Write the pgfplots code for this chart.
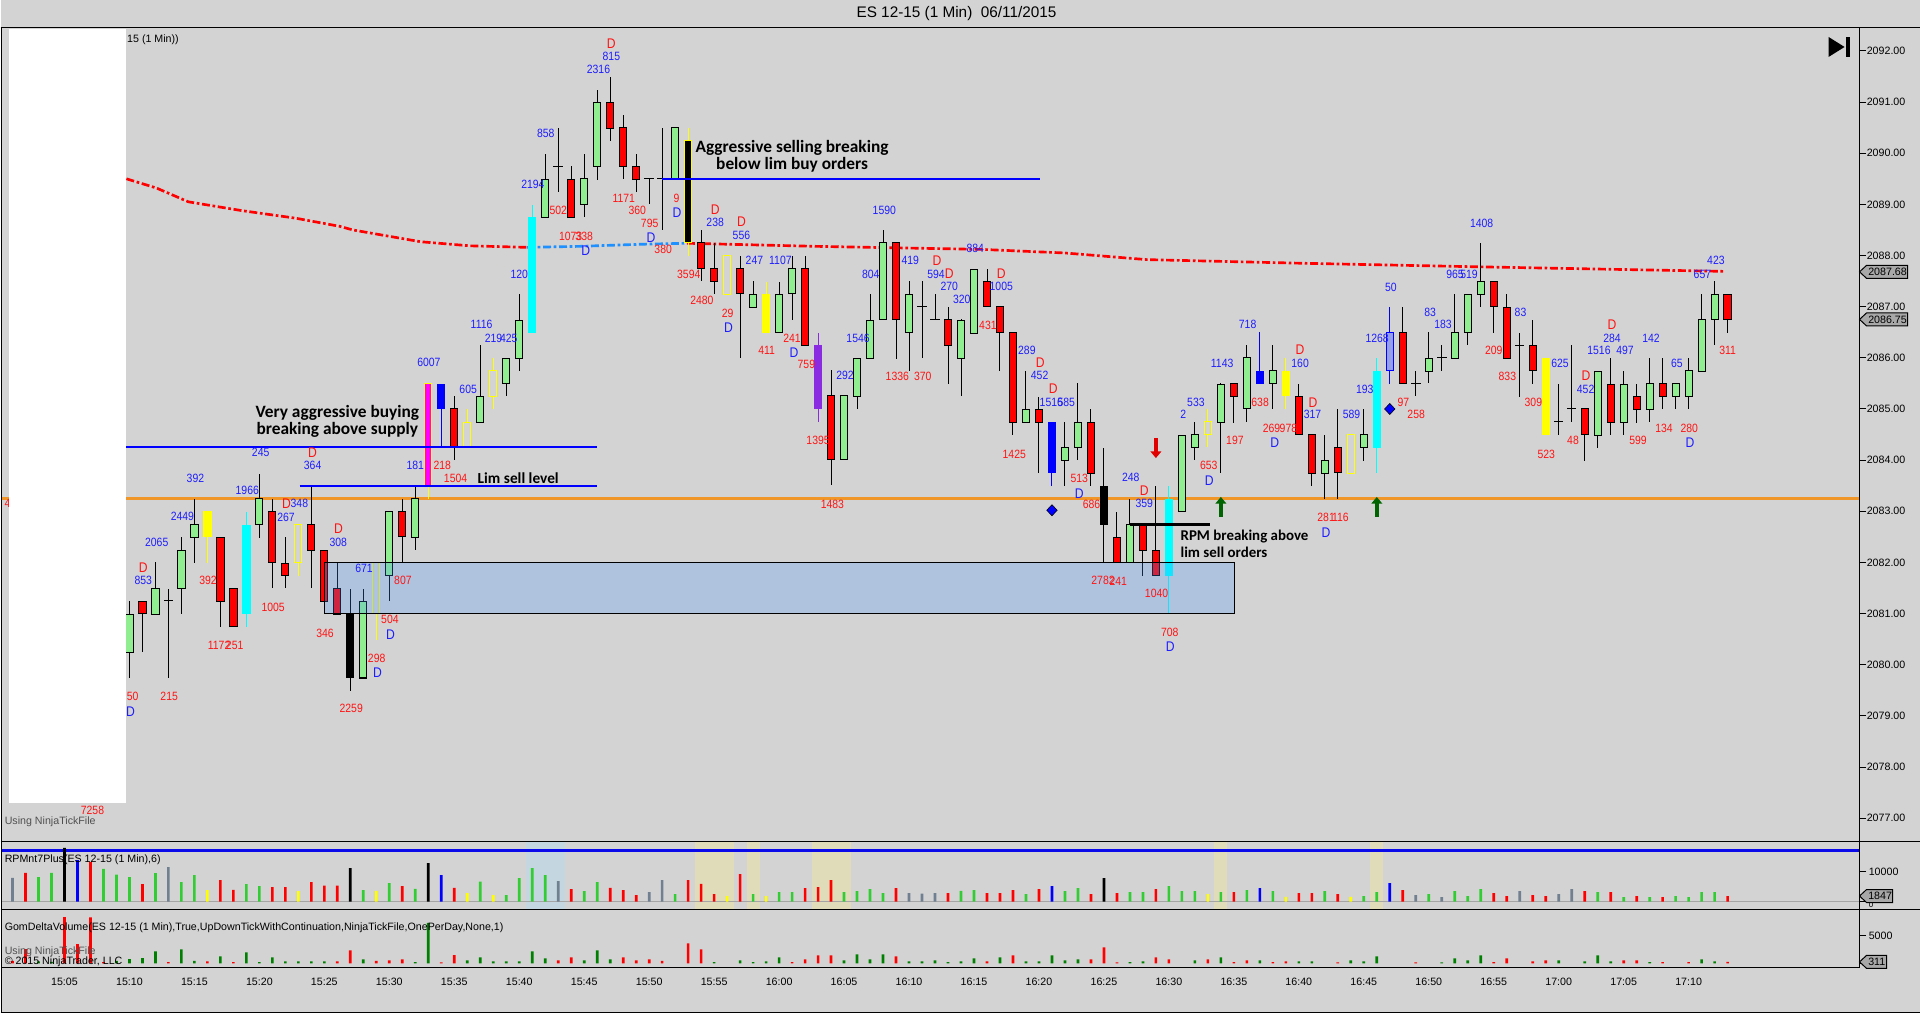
\documentclass[border=0pt]{standalone}
\usepackage{pgfplots}
\pgfplotsset{compat=1.18}
\usepackage{pgfplotstable}
\usetikzlibrary{arrows.meta, shapes.geometric}
\usepackage{fontspec}
\setmainfont{Liberation Sans}
\newfontfamily\nf[FakeStretch=0.87]{Liberation Sans}
\newfontfamily\cf{Carlito}

\definecolor{bg}{RGB}{211,211,211}
\definecolor{cg}{RGB}{144,238,144}
\definecolor{cr}{RGB}{255,0,0}
\definecolor{cy}{RGB}{255,255,0}
\definecolor{cc}{RGB}{0,255,255}
\definecolor{cm}{RGB}{255,0,255}
\definecolor{cb}{RGB}{0,0,255}
\definecolor{cp}{RGB}{138,43,226}
\definecolor{cl}{RGB}{150,160,230}
\definecolor{lb}{RGB}{30,30,255}
\definecolor{lr}{RGB}{255,20,20}
\definecolor{rg}{RGB}{50,205,50}
\definecolor{rgray}{RGB}{112,128,144}
\definecolor{dg}{RGB}{0,128,0}
\definecolor{ora}{RGB}{240,150,40}
\definecolor{mablue}{RGB}{30,144,255}
\definecolor{zone}{RGB}{71,151,255}
\definecolor{shb}{RGB}{196,214,224}
\definecolor{shy}{RGB}{224,220,186}
\definecolor{zline}{RGB}{165,165,165}
\definecolor{rpmblue}{RGB}{10,10,235}
\definecolor{arred}{RGB}{225,0,0}
\definecolor{argreen}{RGB}{0,100,0}
\definecolor{boxg}{RGB}{168,168,168}
\definecolor{txg}{RGB}{80,80,80}

% ---------- candle data: i = minutes after 15:01 ----------
\pgfplotstableread{
i o h l c
9 2080.25 2081.25 2079.75 2081.0
11 2081.0 2082.0 2081.0 2081.5
13 2081.5 2082.5 2081.0 2082.25
14 2082.5 2083.25 2082.0 2082.75
19 2082.75 2083.75 2082.5 2083.25
27 2079.75 2081.5 2079.75 2081.25
29 2081.75 2083.0 2081.25 2083.0
31 2082.5 2083.5 2082.25 2083.25
36 2084.75 2086.25 2084.75 2085.25
38 2085.5 2086.0 2085.25 2086.0
39 2086.0 2087.25 2085.75 2086.75
41 2088.75 2090.0 2088.75 2089.5
44 2089.0 2090.0 2088.75 2089.5
45 2089.75 2091.25 2089.5 2091.0
51 2089.5 2090.5 2089.5 2090.5
57 2087.0 2087.5 2087.0 2087.25
59 2086.5 2087.5 2086.5 2087.25
60 2087.25 2088.0 2086.75 2087.75
64 2084.0 2085.25 2084.0 2085.25
65 2085.25 2086.0 2085.0 2086.0
66 2086.0 2087.25 2086.0 2086.75
67 2086.75 2088.5 2086.75 2088.25
69 2086.5 2087.5 2085.75 2087.25
73 2086.0 2086.75 2085.25 2086.75
74 2086.5 2087.75 2086.5 2087.75
78 2084.75 2085.75 2084.75 2085.0
81 2084.0 2084.75 2083.5 2084.25
82 2084.25 2085.5 2084.0 2084.75
86 2082.0 2083.25 2082.0 2082.75
90 2083.0 2084.5 2083.0 2084.5
91 2084.25 2084.75 2084.0 2084.5
93 2084.75 2085.5 2083.75 2085.5
95 2085.0 2086.25 2084.75 2086.0
97 2085.5 2086.25 2085.0 2085.75
101 2083.75 2084.5 2083.25 2084.0
104 2084.25 2085.0 2084.0 2084.5
109 2085.75 2086.5 2085.5 2086.0
111 2086.0 2087.25 2086.0 2086.5
112 2086.5 2087.25 2086.25 2087.25
113 2087.25 2088.25 2087.0 2087.5
122 2084.5 2085.75 2084.25 2085.75
124 2084.75 2085.75 2084.5 2085.5
126 2085.0 2086.0 2084.75 2085.5
128 2085.25 2085.5 2085.0 2085.5
129 2085.25 2086.0 2085.0 2085.75
130 2085.75 2087.25 2085.75 2086.75
131 2086.75 2087.5 2086.25 2087.25
}\tG
\pgfplotstableread{
i o h l c
10 2081.25 2081.25 2080.25 2081.0
16 2082.5 2082.5 2080.75 2081.25
17 2081.5 2081.5 2080.75 2080.75
20 2083.0 2083.25 2081.5 2082.0
21 2082.0 2082.5 2081.5 2081.75
23 2082.75 2083.5 2081.5 2082.25
24 2082.25 2082.25 2081.25 2081.25
25 2081.5 2082.0 2081.0 2081.0
30 2083.0 2083.25 2082.0 2082.5
34 2085.0 2085.25 2084.0 2084.25
43 2089.5 2089.75 2088.75 2088.75
46 2091.0 2091.5 2090.25 2090.5
47 2090.5 2090.75 2089.5 2089.75
48 2089.75 2090.0 2089.25 2089.5
53 2088.25 2088.5 2087.5 2087.75
54 2087.75 2088.25 2087.25 2087.5
56 2087.75 2088.0 2086.0 2087.25
61 2087.75 2088.0 2086.25 2086.25
63 2085.25 2085.75 2083.5 2084.0
68 2088.25 2088.25 2086.0 2086.75
72 2086.75 2087.0 2085.5 2086.25
75 2087.5 2087.75 2087.0 2087.0
76 2087.0 2087.0 2085.75 2086.5
77 2086.5 2086.5 2084.5 2084.75
79 2085.0 2085.25 2083.75 2084.75
83 2084.75 2085.0 2083.5 2083.75
85 2082.5 2083.0 2082.0 2082.0
87 2082.75 2082.75 2081.75 2082.25
88 2082.25 2083.5 2081.75 2081.75
94 2085.5 2085.5 2084.75 2085.25
99 2085.25 2085.5 2084.5 2084.5
100 2084.5 2084.5 2083.5 2083.75
102 2084.25 2085.0 2083.25 2083.75
107 2086.5 2087.0 2085.5 2085.5
114 2087.5 2087.5 2086.5 2087.0
115 2087.0 2087.25 2086.0 2086.0
117 2086.25 2086.75 2085.5 2085.75
121 2085.0 2085.0 2084.0 2084.5
123 2085.5 2086.0 2084.5 2084.75
125 2085.25 2085.5 2084.75 2085.0
127 2085.5 2086.0 2085.0 2085.25
132 2087.25 2087.25 2086.5 2086.75
}\tR
\pgfplotstableread{
i o h l c
12 2081.25 2081.5 2079.75 2081.25
42 2089.75 2090.5 2089.25 2089.75
49 2089.5 2089.5 2089.0 2089.5
50 2089.5 2090.5 2088.5 2089.5
70 2087.0 2087.5 2086.0 2087.0
71 2086.75 2087.25 2086.75 2086.75
108 2085.5 2085.75 2085.25 2085.5
110 2086.0 2086.25 2085.75 2086.0
116 2086.25 2086.5 2085.25 2086.25
119 2084.75 2085.5 2084.5 2084.75
120 2085.0 2086.25 2084.75 2085.0
}\tX
\pgfplotstableread{
i o h l c
15 2082.5 2083.0 2082.0 2083.0
58 2087.25 2087.5 2086.5 2086.5
98 2085.75 2086.0 2085.0 2085.25
118 2086.0 2086.0 2084.5 2084.5
}\tY
\pgfplotstableread{
i o h l c
22 2082.0 2082.75 2081.75 2082.75
28 2081.0 2082.0 2080.5 2082.0
35 2084.25 2085.0 2084.25 2084.75
37 2085.25 2086.0 2085.0 2085.75
55 2087.25 2088.0 2087.25 2088.0
92 2084.5 2085.0 2084.25 2084.75
103 2083.75 2084.5 2083.75 2084.5
}\tYH
\pgfplotstableread{
i o h l c
18 2081.0 2083.0 2080.75 2082.75
40 2086.5 2089.0 2086.5 2088.75
89 2081.75 2083.5 2081.0 2083.25
105 2084.25 2086.0 2083.75 2085.75
}\tC
\pgfplotstableread{
i o h l c
26 2081.0 2081.5 2079.5 2079.75
84 2083.5 2084.25 2082.0 2082.75
}\tK
\pgfplotstableread{
i o h l c
52 2090.25 2090.5 2088.0 2088.25
}\tKY
\pgfplotstableread{
i o h l c
32 2083.5 2085.5 2083.25 2085.5
}\tM
\pgfplotstableread{
i o h l c
33 2085.5 2085.5 2084.25 2085.0
80 2084.75 2084.75 2083.5 2083.75
96 2085.75 2086.5 2085.5 2085.5
}\tB
\pgfplotstableread{
i o h l c
62 2086.25 2086.5 2084.75 2085.0
}\tP
\pgfplotstableread{
i o h l c
106 2085.75 2087.0 2085.5 2086.5
}\tL

\pgfplotsset{nomark/.style={draw=none, mark=none, forget plot}}
\newcommand{\wick}[2]{\addplot[nomark, error bars/.cd, y dir=both, y explicit, error mark=none, error bar style={line width=0.75pt, draw=#2, solid}] table[x=i, y expr={(\thisrow{h}+\thisrow{l})/2}, y error expr={(\thisrow{h}-\thisrow{l})/2}] {#1};}
\newcommand{\body}[4]{\addplot[nomark, error bars/.cd, y dir=both, y explicit, error mark=none, error bar style={line width=#3, draw=#2, solid}] table[x=i, y expr={(\thisrow{o}+\thisrow{c})/2}, y error expr={abs(\thisrow{o}-\thisrow{c})/2#4}] {#1};}
\newcommand{\lb}[4]{\node[inner sep=0pt, text=#1, font=\nf\fontsize{9}{9}\selectfont] at (axis cs:#2,#3) {#4};}
\newcommand{\ld}[3]{\node[inner sep=0pt, text=#1, font=\nf\fontsize{10.5}{10.5}\selectfont] at (axis cs:#2,#3) {D};}

\begin{document}
\begin{tikzpicture}
\fill[bg] (0,0) rectangle (1440pt,760.5pt);

% ================= main price panel =================
\begin{axis}[at={(0.75pt,129.225pt)}, anchor=south west, scale only axis,
  width=1393.875pt, height=610.8pt,
  xmin=-0.846, xmax=142.115, ymin=2076.548, ymax=2092.463,
  axis line style={black, line width=0.75pt},
  xtick=\empty, ytick={2077,2078,...,2092}, yticklabels={},
  ytick pos=right, tick align=outside, major tick length=5.25pt,
  tick style={black, line width=0.75pt}, clip=false]

\draw[ora, line width=1.6pt] (axis cs:-0.846,2083.25) -- (axis cs:142.115,2083.25);

% moving average
\addplot[cr, line width=2pt, dash pattern=on 6pt off 2pt on 2pt off 2pt, forget plot] coordinates {
(8.77,2089.50) (11.08,2089.32) (13.54,2089.05) (17.6,2088.88) (21.8,2088.73) (25.2,2088.57) (26.2,2088.50) (31.4,2088.27) (35.2,2088.19) (39.6,2088.16)};
\addplot[mablue, line width=2pt, dash pattern=on 6pt off 2pt on 2pt off 2pt, forget plot] coordinates {
(39.6,2088.16) (43.7,2088.18) (48.3,2088.22) (51.9,2088.24)};
\addplot[cr, line width=2pt, dash pattern=on 6pt off 2pt on 2pt off 2pt, forget plot] coordinates {
(51.9,2088.24) (61.8,2088.18) (74.6,2088.12) (81,2088.05) (87.3,2087.92) (99.1,2087.85) (112.7,2087.78) (131.8,2087.69)};

% candles
\wick{\tG}{black} \body{\tG}{black}{6.2pt}{+0.0098} \body{\tG}{cg}{4.7pt}{-0.0098}
\wick{\tR}{black} \body{\tR}{black}{6.2pt}{+0.0098} \body{\tR}{cr}{4.7pt}{-0.0098}
\wick{\tX}{black}
\addplot[nomark, error bars/.cd, x dir=both, x fixed=0.365, error mark=none, error bar style={line width=0.75pt, draw=black, solid}] table[x=i, y=o] {\tX};
\wick{\tY}{cy} \body{\tY}{cy}{6.2pt}{+0.0}
\wick{\tYH}{cy} \body{\tYH}{cy}{6.2pt}{+0.0098} \body{\tYH}{bg}{4.7pt}{-0.0098}
\wick{\tC}{cc} \body{\tC}{cc}{6.2pt}{+0.0}
\wick{\tK}{black} \body{\tK}{black}{6.2pt}{+0.0}
\wick{\tKY}{cy} \body{\tKY}{cy}{6.2pt}{+0.0098} \body{\tKY}{black}{4.7pt}{-0.0098}
\wick{\tM}{cy} \body{\tM}{cy}{6.2pt}{+0.0098} \body{\tM}{cm}{4.7pt}{-0.0098}
\wick{\tB}{cb} \body{\tB}{cb}{6.2pt}{+0.0}
\wick{\tP}{cp} \body{\tP}{cp}{6.2pt}{+0.0}
\wick{\tL}{cb} \body{\tL}{cb}{6.2pt}{+0.0098} \body{\tL}{cl}{4.7pt}{-0.0098}

% supply zone
\filldraw[fill=zone, fill opacity=0.25, draw=black, line width=0.75pt] (axis cs:24,2081) rectangle (axis cs:94.05,2082);

% level lines
\draw[cb, line width=1.5pt] (axis cs:8.77,2084.25) -- (axis cs:45,2084.25);
\draw[cb, line width=1.5pt] (axis cs:22.1,2083.5) -- (axis cs:45,2083.5);
\draw[cb, line width=1.5pt] (axis cs:50,2089.5) -- (axis cs:79.1,2089.5);
\draw[black, line width=2.25pt] (axis cs:86,2082.75) -- (axis cs:92.2,2082.75);

% arrows and diamonds
\draw[-{Triangle[length=5pt,width=8pt]}, line width=2.6pt, draw=arred] (axis cs:88,2084.43) -- (axis cs:88,2084.04);
\draw[-{Triangle[length=5pt,width=8pt]}, line width=2.6pt, draw=argreen] (axis cs:93,2082.89) -- (axis cs:93,2083.28);
\draw[-{Triangle[length=5pt,width=8pt]}, line width=2.6pt, draw=argreen] (axis cs:105,2082.89) -- (axis cs:105,2083.28);
\node[diamond, fill=cb, draw=black, line width=0.4pt, inner sep=0pt, minimum width=8pt, minimum height=8.5pt] at (axis cs:80,2083.02) {};
\node[diamond, fill=cb, draw=black, line width=0.4pt, inner sep=0pt, minimum width=8pt, minimum height=8.5pt] at (axis cs:106,2085.0) {};

% bar labels
\node[inner sep=0pt, anchor=east, text=lr, font=\nf\fontsize{9}{9}\selectfont] at (axis cs:9.72,2079.38) {50};
\ld{lb}{9.08}{2079.09}
\lb{lb}{10.07}{2081.64}{853} \ld{lr}{10.07}{2081.89}
\lb{lb}{11.1}{2082.40}{2065}
\lb{lr}{12.06}{2079.38}{215}
\lb{lb}{13.08}{2082.90}{2449}
\lb{lb}{14.08}{2083.65}{392}
\lb{lr}{15.05}{2081.64}{392}
\lb{lr}{15.9}{2080.38}{1172} \lb{lr}{17.1}{2080.38}{251}
\lb{lb}{18.07}{2083.40}{1966}
\lb{lb}{19.1}{2084.15}{245}
\ld{lr}{21.09}{2083.15} \lb{lb}{22.08}{2083.15}{348}
\lb{lb}{21.05}{2082.89}{267}
\lb{lr}{20.06}{2081.13}{1005}
\ld{lr}{23.1}{2084.15} \lb{lb}{23.1}{2083.89}{364}
\ld{lr}{25.1}{2082.66} \lb{lb}{25.07}{2082.40}{308}
\lb{lr}{24.05}{2080.62}{346}
\lb{lr}{26.07}{2079.14}{2259}
\lb{lb}{27.06}{2081.89}{671}
\lb{lr}{28.03}{2080.13}{298} \ld{lb}{28.1}{2079.84}
\lb{lr}{29.05}{2080.88}{504} \ld{lb}{29.1}{2080.58}
\lb{lr}{30.05}{2081.64}{807}
\lb{lb}{31.0}{2083.89}{181}
\lb{lr}{33.08}{2083.89}{218}
\lb{lr}{34.1}{2083.64}{1504}
\lb{lb}{35.07}{2085.39}{605}
\lb{lb}{32.05}{2085.91}{6007}
\lb{lb}{36.1}{2086.65}{1116}
\lb{lb}{37.02}{2086.39}{219} \lb{lb}{38.2}{2086.39}{425}
\lb{lb}{39.0}{2087.64}{120}
\lb{lb}{40.05}{2089.40}{2194}
\lb{lb}{41.04}{2090.39}{858}
\lb{lr}{42.0}{2088.89}{502}
\lb{lr}{42.96}{2088.38}{1073} \lb{lr}{44.0}{2088.38}{338}
\ld{lb}{44.13}{2088.10}
\lb{lb}{45.1}{2091.64}{2316}
\lb{lb}{46.09}{2091.90}{815} \ld{lr}{46.09}{2092.15}
\lb{lr}{47.05}{2089.12}{1171}
\lb{lr}{48.08}{2088.89}{360}
\lb{lr}{49.04}{2088.63}{795}
\ld{lb}{49.15}{2088.35}
\lb{lr}{50.08}{2088.12}{380}
\lb{lr}{51.1}{2089.12}{9} \ld{lb}{51.14}{2088.84}
\lb{lr}{52.05}{2087.64}{3594}
\ld{lr}{54.08}{2088.89} \lb{lb}{54.08}{2088.64}{238}
\lb{lr}{53.06}{2087.13}{2480}
\ld{lr}{56.1}{2088.66} \lb{lb}{56.1}{2088.40}{556}
\lb{lr}{55.04}{2086.87}{29} \ld{lb}{55.1}{2086.58}
\lb{lb}{57.1}{2087.90}{247}
\lb{lb}{59.1}{2087.90}{1107}
\lb{lr}{58.04}{2086.14}{411}
\lb{lr}{60.0}{2086.39}{241} \ld{lb}{60.15}{2086.11}
\lb{lr}{61.1}{2085.88}{759}
\lb{lb}{67.1}{2088.89}{1590}
\lb{lb}{66.05}{2087.64}{804}
\lb{lb}{65.08}{2086.39}{1546}
\lb{lb}{64.07}{2085.65}{292}
\lb{lb}{69.1}{2087.90}{419}
\lb{lr}{68.1}{2085.63}{1336}
\lb{lr}{70.06}{2085.63}{370}
\ld{lr}{71.15}{2087.90} \lb{lb}{71.08}{2087.64}{594}
\ld{lr}{72.1}{2087.64} \lb{lb}{72.1}{2087.39}{270}
\lb{lb}{73.06}{2087.15}{320}
\lb{lb}{74.1}{2088.14}{884}
\ld{lr}{76.1}{2087.64} \lb{lb}{76.1}{2087.39}{1005}
\lb{lr}{75.07}{2086.63}{431}
\lb{lb}{78.07}{2086.14}{289}
\ld{lr}{79.1}{2085.90} \lb{lb}{79.05}{2085.65}{452}
\lb{lb}{93.1}{2085.90}{1143}
\lb{lb}{95.06}{2086.65}{718}
\ld{lr}{80.1}{2085.39}
\lb{lb}{79.95}{2085.13}{1516} \lb{lb}{81.1}{2085.13}{585}
\lb{lr}{62.0}{2084.38}{1395}
\lb{lr}{63.1}{2083.13}{1483}
\lb{lr}{77.1}{2084.12}{1425}
\lb{lr}{82.1}{2083.64}{513} \ld{lb}{82.1}{2083.34}
\lb{lr}{83.04}{2083.13}{686}
\lb{lr}{83.93}{2081.64}{2782} \lb{lr}{85.1}{2081.64}{241}
\lb{lb}{86.07}{2083.66}{248}
\ld{lr}{87.1}{2083.40} \lb{lb}{87.1}{2083.15}{359}
\lb{lr}{88.05}{2081.40}{1040}
\lb{lr}{89.07}{2080.63}{708} \ld{lb}{89.1}{2080.35}
\lb{lb}{90.1}{2084.89}{2}
\lb{lb}{91.08}{2085.13}{533}
\lb{lr}{92.07}{2083.89}{653} \ld{lb}{92.1}{2083.60}
\lb{lr}{94.08}{2084.38}{197}
\lb{lr}{96.02}{2085.13}{638}
\lb{lr}{96.9}{2084.63}{269} \lb{lr}{98.2}{2084.63}{978}
\ld{lb}{97.14}{2084.35}
\ld{lr}{99.1}{2086.16} \lb{lb}{99.1}{2085.90}{160}
\lb{lb}{105.03}{2086.39}{1268}
\lb{lb}{106.08}{2087.38}{50}
\lb{lb}{109.1}{2086.89}{83}
\lb{lb}{110.1}{2086.65}{183}
\lb{lb}{111.02}{2087.64}{965} \lb{lb}{112.1}{2087.64}{519}
\lb{lb}{113.07}{2088.63}{1408}
\lb{lr}{114.0}{2086.14}{209}
\lb{lb}{116.06}{2086.89}{83}
\lb{lr}{115.05}{2085.63}{833}
\lb{lb}{119.1}{2085.90}{625}
\ld{lr}{121.1}{2085.65} \lb{lb}{121.07}{2085.39}{452}
\lb{lb}{122.1}{2086.14}{1516}
\lb{lb}{124.1}{2086.14}{497}
\ld{lr}{123.1}{2086.65} \lb{lb}{123.1}{2086.39}{284}
\lb{lb}{126.1}{2086.39}{142}
\lb{lb}{128.1}{2085.90}{65}
\lb{lb}{130.06}{2087.64}{657}
\lb{lb}{131.1}{2087.90}{423}
\lb{lr}{132.0}{2086.14}{311}
\lb{lb}{104.07}{2085.39}{193}
\ld{lr}{100.1}{2085.13} \lb{lb}{100.05}{2084.89}{317}
\lb{lb}{103.05}{2084.89}{589}
\lb{lr}{107.04}{2085.13}{97}
\lb{lr}{108.03}{2084.89}{258}
\lb{lr}{117.05}{2085.13}{309}
\lb{lr}{118.04}{2084.12}{523}
\lb{lr}{120.1}{2084.38}{48}
\lb{lr}{125.1}{2084.38}{599}
\lb{lr}{127.1}{2084.63}{134}
\lb{lr}{129.05}{2084.63}{280} \ld{lb}{129.1}{2084.35}
\lb{lr}{101.1}{2082.89}{281} \lb{lr}{102.2}{2082.89}{116}
\ld{lb}{101.1}{2082.59}
\end{axis}

% ================= RPM panel =================
\begin{axis}[at={(0.75pt,78pt)}, anchor=south west, scale only axis,
  width=1393.875pt, height=51.225pt,
  xmin=-0.846, xmax=142.115, ymin=-2702, ymax=20369,
  axis line style={black, line width=0.75pt}, scaled y ticks=false,
  xtick=\empty, ytick={0,10000}, yticklabels={},
  ytick pos=right, tick align=outside, major tick length=5.25pt,
  tick style={black, line width=0.75pt}]
\fill[shb] (axis cs:39.5,-2702) rectangle (axis cs:42.5,20369);
\fill[shy] (axis cs:52.5,-2702) rectangle (axis cs:55.5,20369);
\fill[shy] (axis cs:56.5,-2702) rectangle (axis cs:57.5,20369);
\fill[shy] (axis cs:61.5,-2702) rectangle (axis cs:64.5,20369);
\fill[shy] (axis cs:92.5,-2702) rectangle (axis cs:93.5,20369);
\fill[shy] (axis cs:104.5,-2702) rectangle (axis cs:105.5,20369);
\draw[zline, line width=1pt] (axis cs:-0.846,0) -- (axis cs:142.115,0);
\draw[rpmblue, line width=1.6pt] (axis cs:-0.846,17228) -- (axis cs:142.115,17228);
\addplot[ybar, bar width=2pt, bar shift=0pt, fill=rg, draw=none, forget plot] coordinates {
(2,8220)(3,9684)(7,11035)(8,9121)(9,8220)(11,9571)(13,6531)(14,8895)(18,5855)(19,5180)(27,3828)(29,6193)(31,4279)(36,6756)(38,2139)(39,7882)(40,11260)(41,8895)(44,3491)(45,6531)(51,2477)(57,2477)(59,3153)(60,3153)(64,3153)(65,3491)(66,4166)(67,2815)(73,3603)(74,3828)(78,2477)(81,3491)(82,4504)(86,3153)(87,3153)(89,5180)(90,3491)(91,3491)(93,3153)(95,3828)(97,3491)(101,3491)(104,1802)(105,3153)(109,2477)(111,3491)(112,1802)(113,4166)(122,3153)(124,1464)(126,1464)(128,1802)(129,1464)(130,3153)(131,3153)};
\addplot[ybar, bar width=2pt, bar shift=0pt, fill=cr, draw=none, forget plot] coordinates {
(1,9684)(6,13399)(10,5855)(16,7206)(17,3941)(20,4842)(21,4842)(23,6531)(24,5405)(25,5405)(30,5180)(34,4617)(43,4166)(46,4617)(47,3828)(48,2139)(52,7206)(53,5968)(54,2477)(56,9233)(61,4504)(62,4842)(63,7206)(68,4504)(72,2815)(75,2815)(76,2815)(77,3828)(79,4166)(83,2477)(85,2815)(88,4166)(94,3153)(99,2815)(100,2815)(102,2477)(107,3828)(114,2815)(115,1802)(117,2139)(118,1802)(121,3491)(123,3153)(125,1802)(127,1464)(132,1847)};
\addplot[ybar, bar width=2pt, bar shift=0pt, fill=rgray, draw=none, forget plot] coordinates {
(0,7995)(12,11598)(42,6869)(49,3153)(50,7206)(69,2815)(70,2702)(71,2815)(108,2139)(110,1464)(116,3491)(119,2477)(120,4166)};
\addplot[ybar, bar width=2pt, bar shift=0pt, fill=cy, draw=none, forget plot] coordinates {
(15,3828)(22,3491)(28,3603)(35,2815)(37,2139)(55,1802)(58,1802)(92,2477)(98,1576)(103,1576)};
\addplot[ybar, bar width=2pt, bar shift=0pt, fill=black, draw=none, forget plot] coordinates {
(4,18129)(26,11260)(32,12949)(84,7882)};
\addplot[ybar, bar width=2pt, bar shift=0pt, fill=cb, draw=none, forget plot] coordinates {
(5,13962)(33,8895)(80,5180)(96,4504)(106,6193)};
\end{axis}

% ================= Delta volume panel =================
\begin{axis}[at={(0.75pt,34.5pt)}, anchor=south west, scale only axis,
  width=1393.875pt, height=43.5pt,
  xmin=-0.846, xmax=142.115, ymin=-722, ymax=9747,
  axis line style={black, line width=0.75pt}, scaled y ticks=false,
  xtick=\empty, ytick={0,5000}, yticklabels={},
  ytick pos=right, tick align=outside, major tick length=5.25pt,
  tick style={black, line width=0.75pt}]
\addplot[ybar, bar width=2pt, bar shift=0pt, fill=cr, draw=none, forget plot] coordinates {
(0,482)(1,2589)(4,8368)(5,3492)(6,8308)(7,241)(12,241)(15,361)(17,241)(25,361)(26,2348)(28,482)(29,542)(30,722)(33,181)(34,1505)(42,542)(43,1084)(47,1084)(48,542)(49,722)(50,482)(52,3612)(53,2528)(60,241)(61,722)(62,1445)(63,1445)(68,1264)(75,361)(77,1445)(83,722)(84,2890)(85,181)(88,1084)(89,722)(92,722)(94,241)(95,542)(97,241)(98,361)(102,181)(108,181)(114,241)(115,903)(117,361)(118,542)(124,542)(125,542)(127,241)(129,241)(132,311)};
\addplot[ybar, bar width=2pt, bar shift=0pt, fill=dg, draw=none, forget plot] coordinates {
(2,400)(3,300)(8,482)(9,783)(10,963)(11,2167)(13,2528)(14,482)(16,1264)(18,1987)(19,241)(20,1084)(21,361)(22,361)(23,361)(24,361)(27,722)(31,241)(32,7344)(35,542)(36,1084)(37,361)(38,361)(39,361)(40,2167)(41,903)(44,542)(45,2348)(46,722)(54,241)(56,542)(57,241)(58,361)(59,1084)(64,542)(65,1625)(66,722)(67,1625)(69,361)(70,361)(71,542)(72,241)(73,361)(74,903)(76,1084)(78,361)(79,361)(80,1445)(81,542)(82,722)(86,241)(87,361)(91,542)(93,1084)(96,542)(99,361)(100,361)(103,542)(104,361)(105,1264)(110,181)(111,903)(112,542)(113,1445)(119,542)(121,361)(122,1445)(123,361)(126,241)(130,722)(131,361)};
\end{axis}

% ================= overlay in pixel coordinates =================
\begin{scope}[x=0.75pt, y=-0.75pt, yshift=760.5pt]
\draw[black, line width=0.75pt] (0,27.3) -- (1920,27.3);
\draw[black, line width=0.75pt] (0,841.7) -- (1920,841.7);
\draw[black, line width=0.75pt] (0,910) -- (1920,910);
\draw[black, line width=0.75pt] (0,1013) -- (1920,1013);
\draw[black, line width=0.75pt] (1,27.3) -- (1,1013);

\node[font=\fontsize{11.5}{12}\selectfont] at (956.5,13.3) {ES 12-15 (1 Min)~~06/11/2015};

% price scale
\foreach \p in {2077,2078,...,2092}
  \node[anchor=west, inner sep=0pt, font=\fontsize{8}{8}\selectfont] at (1867,{51+(2092-\p)*51.17}) {\p.00};
\node[anchor=west, inner sep=0pt, font=\fontsize{8}{8}\selectfont] at (1869,872.7) {10000};
\node[anchor=west, inner sep=0pt, font=\fontsize{6}{6}\selectfont] at (1869,905) {0};
\node[anchor=west, inner sep=0pt, font=\fontsize{8}{8}\selectfont] at (1869,936.3) {5000};

\draw[fill=boxg, draw=black, line width=0.75pt] (1860,272) -- (1867,265.5) -- (1908,265.5) -- (1908,278.5) -- (1867,278.5) -- cycle;
\node[anchor=west, inner sep=0pt, font=\fontsize{8}{8}\selectfont] at (1868.5,272) {2087.68};
\draw[fill=boxg, draw=black, line width=0.75pt] (1860,319.6) -- (1867,313.1) -- (1908,313.1) -- (1908,326.1) -- (1867,326.1) -- cycle;
\node[anchor=west, inner sep=0pt, font=\fontsize{8}{8}\selectfont] at (1868.5,319.6) {2086.75};
\draw[fill=boxg, draw=black, line width=0.75pt] (1860,896.5) -- (1867,890) -- (1893,890) -- (1893,903) -- (1867,903) -- cycle;
\node[anchor=west, inner sep=0pt, font=\fontsize{8}{8}\selectfont] at (1868.5,896.5) {1847};
\draw[fill=boxg, draw=black, line width=0.75pt] (1860,962.4) -- (1867,955.9) -- (1887,955.9) -- (1887,968.9) -- (1867,968.9) -- cycle;
\node[anchor=west, inner sep=0pt, font=\fontsize{8}{8}\selectfont] at (1868.5,962.4) {311};

% play-end icon
\fill[black] (1829,37) -- (1829,57) -- (1845,47) -- cycle;
\fill[black] (1846,37) rectangle (1850,57);

% time axis
\foreach \i/\t in {4/15:05,9/15:10,14/15:15,19/15:20,24/15:25,29/15:30,34/15:35,39/15:40,44/15:45,49/15:50,54/15:55,59/16:00,64/16:05,69/16:10,74/16:15,79/16:20,84/16:25,89/16:30,94/16:35,99/16:40,104/16:45,109/16:50,114/16:55,119/17:00,124/17:05,129/17:10}
  \node[font=\fontsize{8}{8}\selectfont] at ({12+13*\i},982) {\t};

% indicator captions
\node[anchor=west, inner sep=0pt, font=\fontsize{8}{8}\selectfont] at (4,860) {RPMnt7Plus(ES 12-15 (1 Min),6)};
\node[anchor=west, inner sep=0pt, font=\fontsize{8}{8}\selectfont] at (4,928.7) {GomDeltaVolume(ES 12-15 (1 Min),True,UpDownTickWithContinuation,NinjaTickFile,OnePerDay,None,1)};
\node[anchor=west, inner sep=0pt, text=txg, font=\fontsize{8}{8}\selectfont] at (4,952.7) {Using NinjaTickFile};
\node[anchor=west, inner sep=0pt, font=\fontsize{8}{8}\selectfont] at (4,962) {\textcopyright{} 2015 NinjaTrader, LLC};
\node[anchor=west, inner sep=0pt, text=txg, font=\fontsize{8}{8}\selectfont] at (4,822) {Using NinjaTickFile};
\node[inner sep=0pt, text=lr, font=\nf\fontsize{9}{9}\selectfont] at (92,811) {7258};
\node[inner sep=0pt, text=lr, font=\nf\fontsize{9}{9}\selectfont] at (7,504) {4};

% annotations
\node[align=center, font=\cf\bfseries\fontsize{13}{12.75}\selectfont] at (337,421.5) {Very aggressive buying\\breaking above supply};
\node[font=\cf\bfseries\fontsize{11.5}{12.75}\selectfont] at (518,478.7) {Lim sell level};
\node[align=center, font=\cf\bfseries\fontsize{13}{12.75}\selectfont] at (792,156.3) {Aggressive selling breaking\\below lim buy orders};
\node[align=left, anchor=west, font=\cf\bfseries\fontsize{11.2}{12.75}\selectfont] at (1176,544.5) {RPM breaking above\\lim sell orders};

% redaction box
\fill[white] (9,29) rectangle (126,803);
\node[anchor=west, inner sep=0pt, font=\fontsize{8}{8}\selectfont] at (126.5,39.3) {15 (1 Min))};
\end{scope}
\end{tikzpicture}
\end{document}
